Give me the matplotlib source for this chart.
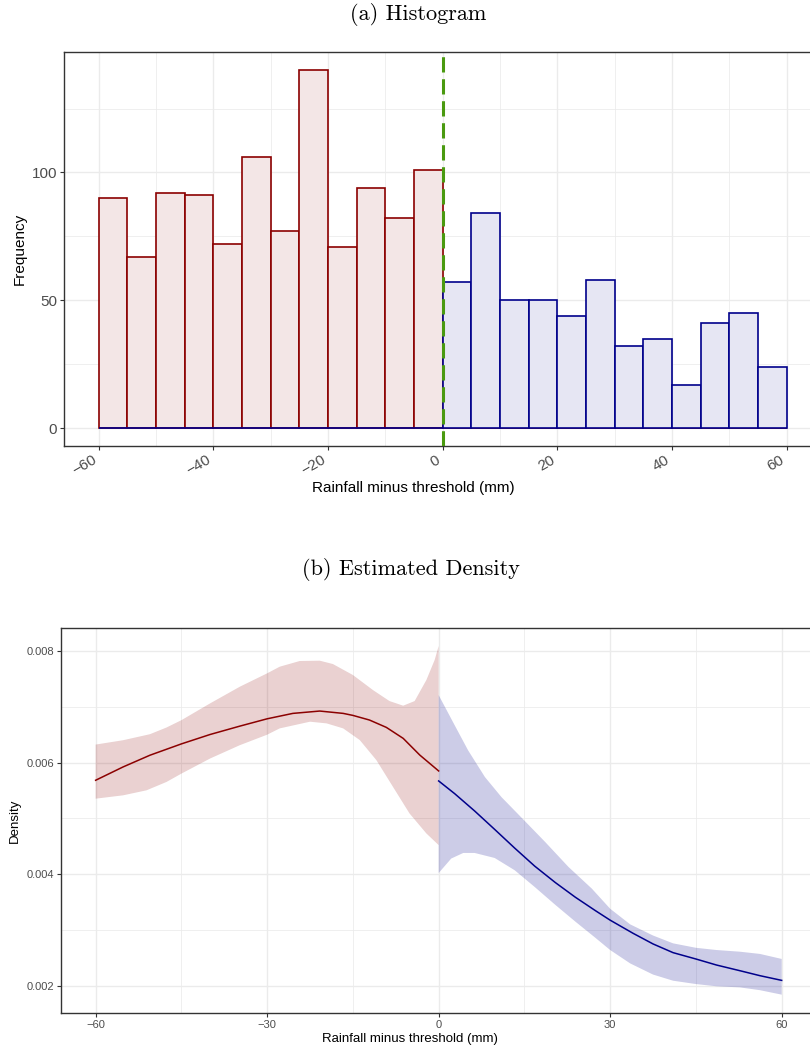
import numpy as np
import matplotlib.pyplot as plt
from matplotlib.ticker import MultipleLocator

plt.rcParams['font.family'] = ['Liberation Sans', 'DejaVu Sans']
plt.rcParams['axes.unicode_minus'] = True

# histogram counts, 5 mm bins from -60 to 60
bin_left = [-60, -55, -50, -45, -40, -35, -30, -25, -20, -15, -10, -5,
            0, 5, 10, 15, 20, 25, 30, 35, 40, 45, 50, 55]
below = [90, 67, 92, 91, 72, 106, 77, 140, 71, 94, 82, 101,
         0, 0, 0, 0, 0, 0, 0, 0, 0, 0, 0, 0]
above = [0, 0, 0, 0, 0, 0, 0, 0, 0, 0, 0, 0,
         57, 84, 50, 50, 44, 58, 32, 35, 17, 41, 45, 24]

# local density estimate below the threshold
x_left = [-60, -55.2, -50.5, -45, -40, -34.8, -30, -25.5, -20.8, -16.7, -15,
          -12.1, -9.15, -6.2, -3.3, 0]
d_left = [0.005683, 0.005922, 0.006132, 0.006335, 0.006503, 0.006653,
          0.006785, 0.006882, 0.006924, 0.006882, 0.006846, 0.006763,
          0.006631, 0.006434, 0.006135, 0.005850]
xu_left = [-60, -55.2, -50.5, -47.6, -45, -40, -34.8, -30, -27.8, -24.3,
           -20.8, -18.5, -15, -11.5, -8.6, -6.2, -4.2, -2.15, -0.7, 0]
hi_left = [0.006323, 0.006401, 0.006509, 0.006629, 0.006760, 0.007060,
           0.007359, 0.007600, 0.007719, 0.007821, 0.007827, 0.007767,
           0.007570, 0.007301, 0.007103, 0.007020, 0.007103, 0.007480,
           0.007839, 0.008090]
xl_left = [-60, -55.2, -51.1, -47.6, -45, -40, -34.8, -30, -27.8, -22.5,
           -19.6, -16.7, -13.8, -10.9, -8.0, -5.1, -2.15, 0]
lo_left = [0.005353, 0.005413, 0.005503, 0.005653, 0.005802, 0.006072,
           0.006311, 0.006500, 0.006613, 0.006733, 0.006703, 0.006613,
           0.006404, 0.006045, 0.005567, 0.005089, 0.004730, 0.004521]

# local density estimate above the threshold
x_right = [0, 2.8, 6.3, 9.8, 13.3, 16.8, 20.4, 23.9, 27.4, 30, 34, 37.5,
           41, 45, 48.6, 52.7, 56.2, 60]
d_right = [0.005671, 0.005443, 0.005132, 0.004802, 0.004467, 0.004144,
           0.003850, 0.003587, 0.003347, 0.003175, 0.002940, 0.002749,
           0.002593, 0.002479, 0.002371, 0.002269, 0.002180, 0.002096]
xu_right = [0, 2.8, 5.15, 8.1, 11, 15, 18.6, 22.7, 26.8, 30, 33.5, 37.5,
            41, 45, 48.6, 52.7, 56.2, 60]
hi_right = [0.00721, 0.00667, 0.00622, 0.00574, 0.00538, 0.00496, 0.00458,
            0.00413, 0.00374, 0.00338, 0.00310, 0.00290, 0.00276, 0.00268,
            0.00264, 0.00261, 0.00257, 0.00248]
xl_right = [0, 2.2, 4.3, 6.3, 9.8, 13.3, 16.8, 20.4, 23.9, 27.4, 30, 33.5,
            37.5, 41, 45, 48.6, 52.7, 56.2, 60]
lo_right = [0.00402, 0.00428, 0.00438, 0.00438, 0.00429, 0.00407, 0.00377,
            0.00345, 0.00315, 0.00286, 0.00264, 0.00240, 0.00220, 0.00209,
            0.00203, 0.00199, 0.00197, 0.00192, 0.00184]

red = '#8B0000'
blue = '#00008B'
grey = '#4D4D4D'
grid = '#EBEBEB'

fig = plt.figure(figsize=(8.1, 10.5), dpi=100)


def style(ax, tick_size):
    for s in ax.spines.values():
        s.set_color('#333333')
        s.set_linewidth(1.0)
    ax.grid(True, which='major', color=grid, lw=1.0)
    ax.grid(True, which='minor', color=grid, lw=0.55)
    ax.set_axisbelow(True)
    ax.tick_params(which='major', length=3, width=0.8, color='#333333',
                   labelcolor=grey, labelsize=tick_size, pad=2)
    ax.tick_params(which='minor', length=0)


def band(ax, xu, hi, xl, lo, color, alpha):
    # upper edge left to right, lower edge back right to left
    xs = np.concatenate([xu, xl[::-1]])
    ys = np.concatenate([hi, lo[::-1]])
    ax.fill(xs, ys, color=color, alpha=alpha, lw=0)


# (a) histogram
ax1 = fig.add_axes([0.0794, 0.5752, 0.9342, 0.3750])
ax1.bar(bin_left, below, width=5, align='edge', color='#F3E6E6',
        edgecolor=red, lw=1.2, zorder=2)
ax1.bar(bin_left, above, width=5, align='edge', color='#E6E6F3',
        edgecolor=blue, lw=1.2, zorder=2)
ax1.axvline(0, color='#4A9A10', lw=2.2, ls=(0, (5, 2.2)), zorder=3)
ax1.set_xlim(-66, 66)
ax1.set_ylim(-7, 147)
ax1.xaxis.set_major_locator(MultipleLocator(20))
ax1.xaxis.set_minor_locator(MultipleLocator(10))
ax1.yaxis.set_major_locator(MultipleLocator(50))
ax1.yaxis.set_minor_locator(MultipleLocator(25))
style(ax1, 11)
for lab in ax1.get_xticklabels():
    lab.set_rotation(30)
    lab.set_ha('right')
    lab.set_va('top')
ax1.set_xlabel('Rainfall minus threshold (mm)', fontsize=11)
ax1.xaxis.set_label_coords(0.4608, -0.09)
ax1.set_ylabel('Frequency', fontsize=11, labelpad=4)
fig.text(0.516, 0.986, '(a) Histogram', family='cmr10', fontsize=16,
         ha='center', va='center')

# (b) estimated density
ax2 = fig.add_axes([0.0757, 0.0355, 0.9317, 0.3661])
band(ax2, xu_left, hi_left, xl_left, lo_left, red, 0.18)
band(ax2, xu_right, hi_right, xl_right, lo_right, blue, 0.2)
ax2.plot(x_left, d_left, color=red, lw=1.1)
ax2.plot(x_right, d_right, color=blue, lw=1.1)
ax2.set_xlim(-66, 66)
ax2.set_ylim(0.001516, 0.008407)
ax2.xaxis.set_major_locator(MultipleLocator(30))
ax2.xaxis.set_minor_locator(MultipleLocator(15))
ax2.yaxis.set_major_locator(MultipleLocator(0.002))
ax2.yaxis.set_minor_locator(MultipleLocator(0.001))
ax2.yaxis.set_major_formatter(lambda v, p: f'{v:.3f}')
style(ax2, 8)
ax2.set_xlabel('Rainfall minus threshold (mm)', fontsize=9.5)
ax2.xaxis.set_label_coords(0.462, -0.052)
ax2.set_ylabel('Density', fontsize=9.5, labelpad=4)
fig.text(0.507, 0.458, '(b) Estimated Density', family='cmr10', fontsize=16,
         ha='center', va='center')

fig.savefig('out.png', dpi=100)
